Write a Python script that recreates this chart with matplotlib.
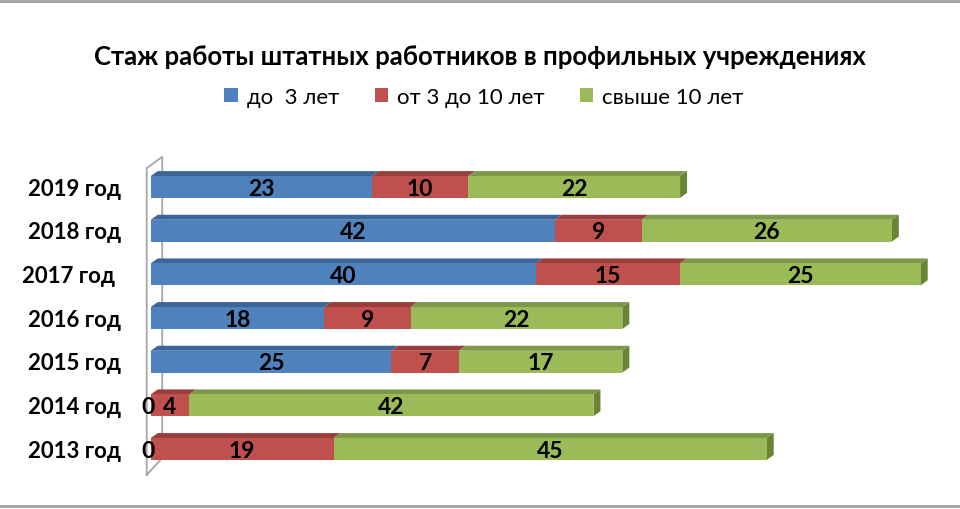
import matplotlib
matplotlib.use('Agg')
import matplotlib.pyplot as plt
from matplotlib.patches import Polygon
from matplotlib.lines import Line2D

# === Data ===
years = ['2013 год', '2014 год', '2015 год', '2016 год', '2017 год ', '2018 год', '2019 год']
up_to_3 = [0, 0, 25, 18, 40, 42, 23]
from_3_to_10 = [19, 4, 7, 9, 15, 9, 10]
over_10 = [45, 42, 17, 22, 25, 26, 22]
series_names = ['до  3 лет', 'от 3 до 10 лет', 'свыше 10 лет']

front_colors = ['#4F81BD', '#C0504D', '#9BBB59']
top_colors = ['#3D6698', '#9A3E3C', '#7C9848']
side_color = '#6A8436'

plt.rcParams['font.family'] = ['Lato', 'DejaVu Sans']

fig = plt.figure(figsize=(9.6, 5.1), dpi=100)
W, H = 960, 510
px_per_unit = 9.625
x0_px = 150.7
xmax = 84
y_top_px, y_bot_px = 188 - 21.83, 450 + 21.83
ax = fig.add_axes([x0_px / W, 1 - y_bot_px / H,
                   xmax * px_per_unit / W, (y_bot_px - y_top_px) / H])
ax.set_xlim(0, xmax)
ax.set_ylim(-0.5, 6.5)
ax.axis('off')

# 3D depth offsets in data units
dx = 7 / px_per_unit
dy = 5 / 43.67
h = 0.5

# back wall outline
wall_x = [-4 / px_per_unit, -4 / px_per_unit, 11.5 / px_per_unit, 11.5 / px_per_unit, -4 / px_per_unit]
wall_y = [-0.595, 6.43, 6.69, -0.205, -0.595]
ax.add_line(Line2D(wall_x, wall_y, color='#A6A6A6', lw=1.3, clip_on=False, zorder=1))

series = [up_to_3, from_3_to_10, over_10]
y = list(range(len(years)))
left = [0] * len(years)
for si, vals in enumerate(series):
    ax.barh(y, vals, left=left, height=h, color=front_colors[si],
            label=series_names[si], zorder=3, clip_on=False)
    for i, v in enumerate(vals):
        x_a, x_b = left[i], left[i] + v
        yt = i + h / 2
        if v > 0:
            ax.add_patch(Polygon([(x_a, yt), (x_b, yt), (x_b + dx, yt + dy), (x_a + dx, yt + dy)],
                                 closed=True, color=top_colors[si], zorder=2, clip_on=False, lw=0))
        # zero values sit just left of the bar start
        xt = x_a + v / 2 if v > 0 else x_a - 2.5 / px_per_unit
        ax.text(xt, i - 0.03, str(v), ha='center', va='center',
                fontsize=16.5, fontweight='bold', color='black', zorder=5)
    left = [l + v for l, v in zip(left, vals)]

# right side faces
for i, total in enumerate(left):
    yb, yt = i - h / 2, i + h / 2
    ax.add_patch(Polygon([(total, yb), (total + dx, yb + dy), (total + dx, yt + dy), (total, yt)],
                         closed=True, color=side_color, zorder=2, clip_on=False, lw=0))

# category labels
for i, name in enumerate(years):
    ax.text(-30 / px_per_unit, i - 0.03, name, ha='right', va='center',
            fontsize=16, fontweight='bold', color='black')

fig.text(480 / W, 1 - 57 / H, 'Стаж работы штатных работников в профильных учреждениях',
         ha='center', va='center', fontsize=18.5, fontweight='bold')

handles, labels = ax.get_legend_handles_labels()
fig.legend(handles, labels, loc='center', bbox_to_anchor=(484 / W, 1 - 98 / H), ncol=3,
           frameon=False, fontsize=16, handlelength=0.6, handleheight=0.6,
           handletextpad=0.4, columnspacing=1.6)

# outer frame lines
fig.add_artist(Line2D([0, 1], [1 - 2 / H, 1 - 2 / H], color='#A0A0A0', lw=2, transform=fig.transFigure))
fig.add_artist(Line2D([0, 1], [1 - 507 / H, 1 - 507 / H], color='#A0A0A0', lw=2, transform=fig.transFigure))

fig.savefig('out.png', dpi=100)
